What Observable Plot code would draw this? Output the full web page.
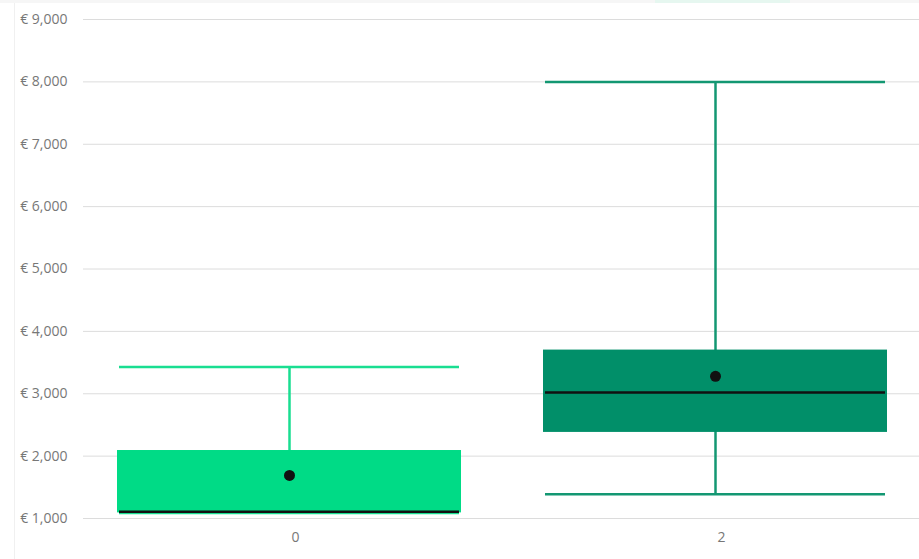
<!DOCTYPE html>
<html>
<head>
<meta charset="utf-8">
<script src="https://cdn.jsdelivr.net/npm/d3@7"></script>
<script src="https://cdn.jsdelivr.net/npm/@observablehq/plot@0.6"></script>
<style>
  html, body { margin: 0; padding: 0; background: #fff; }
  #wrap { position: relative; width: 919px; height: 559px; overflow: hidden; }
  #wrap svg { position: absolute; left: 0; top: 0; }
  .vline { position: absolute; left: 14px; top: 3px; width: 1px; height: 556px; background: #f0f0f0; }
  .topband { position: absolute; left: 0; top: 0; width: 919px; height: 3px; background: #f6f6f6; }
  .topgreen { position: absolute; left: 655px; top: 0; width: 135px; height: 3px; background: #e6f7f0; }
</style>
</head>
<body>
<div id="wrap"></div>
<script>
// Categories and box statistics
const categories = ["0", "2"];
const q1 = [1090, 2380];
const median = [1110, 3020];
const q3 = [2090, 3700];
const whiskerLow = [1090, 1390];
const whiskerHigh = [3430, 8000];
const mean = [1690, 3280];
const boxColors = ["#00DB86", "#018F69"];
const whiskerColors = ["#19DE91", "#139772"];
const yTicks = [1000, 2000, 3000, 4000, 5000, 6000, 7000, 8000, 9000];

const data = categories.map((c, i) => ({
  cat: c, q1: q1[i], median: median[i], q3: q3[i],
  lo: whiskerLow[i], hi: whiskerHigh[i], mean: mean[i],
  fill: boxColors[i], wcol: whiskerColors[i]
}));

const fmt = d3.format(",");

const chart = Plot.plot({
  width: 919,
  height: 559,
  marginLeft: 83,
  marginRight: 0,
  marginTop: 19,
  marginBottom: 41,
  style: { fontFamily: "'Open Sans', sans-serif", fontSize: "14px", color: "#777", background: "transparent" },
  x: { type: "band", domain: categories, range: [76, 928], paddingInner: 0.1925, paddingOuter: 0.096, label: null },
  y: { domain: [1000, 9000], label: null },
  marks: [
    Plot.gridY(yTicks, { stroke: "#dcdcdc", strokeOpacity: 1, strokeWidth: 1 }),
    Plot.axisY(yTicks, { tickSize: 0, tickPadding: 16, tickFormat: d => "€ " + fmt(d), fill: "#777", fontSize: 14 }),
    Plot.axisX({ tickSize: 0, tickPadding: 14, dx: 6, fill: "#777", fontSize: 14 }),
    Plot.ruleX(data, { x: "cat", y1: "lo", y2: "hi", stroke: "wcol", strokeWidth: 2.5 }),
    Plot.tickY(data, { x: "cat", y: "hi", stroke: "wcol", strokeWidth: 2.5, insetLeft: 2, insetRight: 2 }),
    Plot.tickY(data, { x: "cat", y: "lo", stroke: "wcol", strokeWidth: 2.5, insetLeft: 2, insetRight: 2 }),
    Plot.barY(data, { x: "cat", y1: "q1", y2: "q3", fill: "fill" }),
    Plot.tickY(data, { x: "cat", y: "median", stroke: "#111", strokeWidth: 2.5, insetLeft: 2, insetRight: 2 }),
    Plot.dot(data, { x: "cat", y: "mean", r: 5.5, fill: "#111", stroke: "none" })
  ]
});

const wrap = document.getElementById("wrap");
const tb = document.createElement("div"); tb.className = "topband"; wrap.appendChild(tb);
const tg = document.createElement("div"); tg.className = "topgreen"; wrap.appendChild(tg);
const vl = document.createElement("div"); vl.className = "vline"; wrap.appendChild(vl);
wrap.appendChild(chart);
</script>
</body>
</html>
